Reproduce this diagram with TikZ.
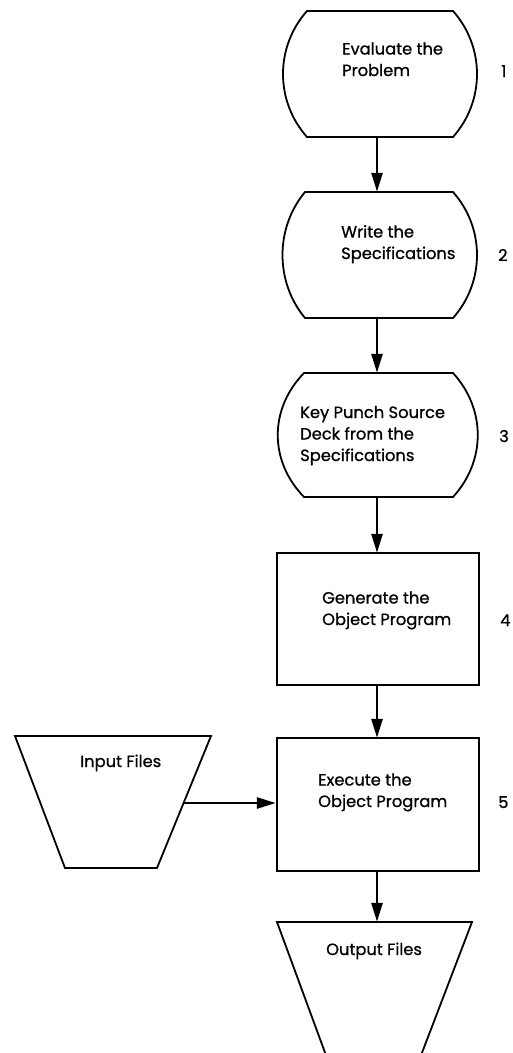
\documentclass[tikz,border=0pt]{standalone}
\usepackage{fontspec}
\setmainfont{Poppins}[FakeBold=0.9]
\usetikzlibrary{arrows.meta,calc}
\begin{document}
\begin{tikzpicture}[x=1pt,y=-1pt,
  outline/.style={line width=1.8pt, line join=miter},
  flow/.style={line width=2.6pt,-{Triangle[length=19pt,width=11pt]}},
  lbl/.style={font=\fontsize{16.3}{21.5}\selectfont, align=left, inner sep=0pt},
  holder/.style={draw=none, inner sep=0pt}
]
\useasboundingbox (0,0) rectangle (512,1053);
% placeholder nodes (for connectors)
\node[holder, minimum width=194pt, minimum height=126pt] (s1) at (377,74) {};
\node[holder, minimum width=194pt, minimum height=126pt] (s2) at (377,255) {};
\node[holder, minimum width=200pt, minimum height=124pt] (s3) at (377,435) {};
\node[holder, minimum width=202pt, minimum height=132pt] (s4) at (377,619) {};
\node[holder, minimum width=202pt, minimum height=133pt] (s5) at (377,804.5) {};
\node[holder, minimum width=196pt, minimum height=132pt] (inp) at (113,802) {};
\node[holder, minimum width=195pt, minimum height=131pt] (outp) at (375,987.5) {};
% outlines
\draw[outline] (307,11) -- (453,11) .. controls (485,47) and (485,101) .. (453,137)
  -- (307,137) .. controls (275,101) and (275,47) .. (307,11) -- cycle;
\draw[outline] (305,192) -- (453,192) .. controls (485,228) and (485,282) .. (453,318)
  -- (305,318) .. controls (275,282) and (275,228) .. (305,192) -- cycle;
\draw[outline] (304,373) -- (453,373) .. controls (486,409) and (486,461) .. (453,497)
  -- (304,497) .. controls (269,461) and (269,409) .. (304,373) -- cycle;
\draw[outline] (277,553) rectangle (479,685);
\draw[outline] (277,738) rectangle (479,871);
\draw[outline] (15,736) -- (211,736) -- (157,868) -- (65,868) -- cycle;
\draw[outline] (327,1058) -- (277,922) -- (472,922) -- (420,1058);
% texts (anchor = baseline of last line)
\node[lbl, anchor=base west] (t1) at (342,76) {Evaluate the\\Problem};
\node[lbl, anchor=base west] (t2) at (341,259) {Write the\\Specifications};
\node[lbl, anchor=base west] (t3) at (300,461) {Key Punch Source\\Deck from the\\Specifications};
\node[lbl, anchor=base west] (t4) at (322,625) {Generate the\\Object Program};
\node[lbl, anchor=base west] (t5) at (318,807) {Execute the\\Object Program};
\node[lbl, anchor=base west] (ti) at (80,767) {Input Files};
\node[lbl, anchor=base west] (to) at (326,955) {Output Files};
\node[lbl, anchor=base west] (n1) at (501,77) {1};
\node[lbl, anchor=base west] (n2) at (498,261) {2};
\node[lbl, anchor=base west] (n3) at (499,442) {3};
\node[lbl, anchor=base west] (n4) at (500,626) {4};
\node[lbl, anchor=base west] (n5) at (498,808) {5};
% connectors
\draw[flow] (s1.south) -- (s2.north);
\draw[flow] (s2.south) -- (s3.north);
\draw[flow] (s3.south) -- (s4.north);
\draw[flow] (s4.south) -- (s5.north);
\draw[flow] (s5.south) -- (s5.south |- outp.north);
\coordinate (ia) at (184,803);
\draw[flow] (ia) -- (ia -| s5.west);
\end{tikzpicture}
\end{document}
